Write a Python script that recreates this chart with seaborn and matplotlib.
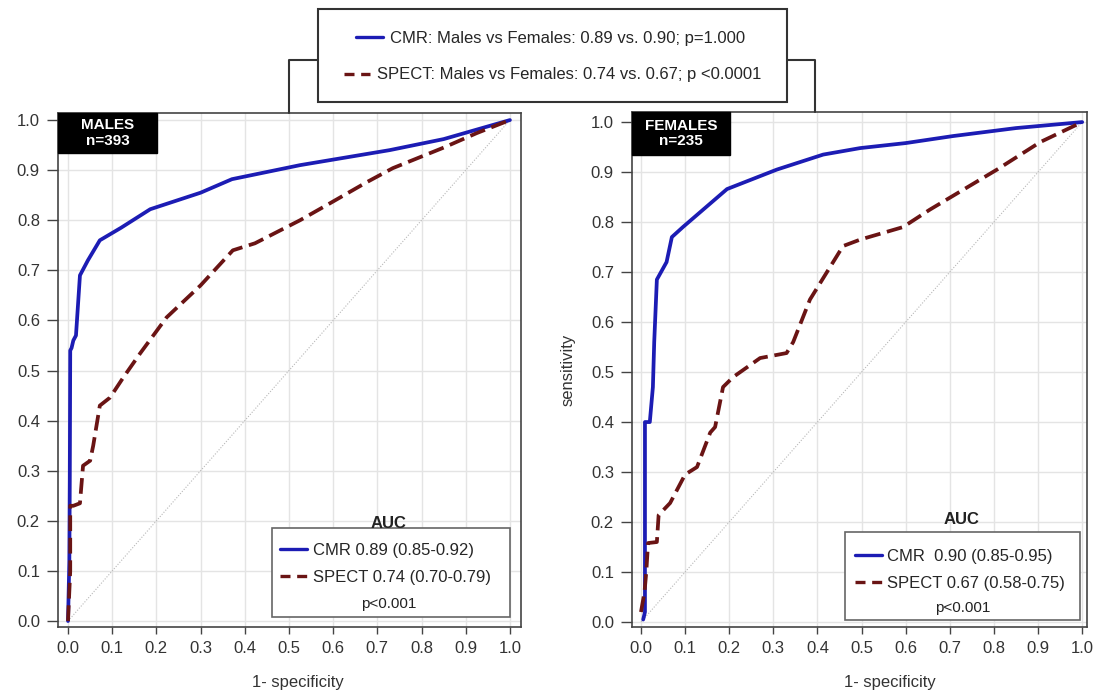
import numpy as np
import pandas as pd
import matplotlib
matplotlib.use("Agg")
import matplotlib.pyplot as plt
from matplotlib.patches import Rectangle
from matplotlib.lines import Line2D
import seaborn as sns

# ---------------- data ----------------
males_cmr_fpr = [0.0, 0.003, 0.004, 0.005, 0.008, 0.012, 0.018, 0.027, 0.045, 0.072, 0.12, 0.186, 0.30, 0.371, 0.525, 0.728, 0.85, 1.0]
males_cmr_tpr = [0.0, 0.12, 0.28, 0.54, 0.545, 0.56, 0.57, 0.69, 0.72, 0.76, 0.785, 0.822, 0.855, 0.882, 0.91, 0.94, 0.962, 1.0]

males_spect_fpr = [0.0, 0.005, 0.005, 0.012, 0.027, 0.034, 0.05, 0.057, 0.072, 0.095, 0.125, 0.163, 0.223, 0.30, 0.373, 0.423, 0.525, 0.593, 0.676, 0.735, 0.85, 0.925, 1.0]
males_spect_tpr = [0.0, 0.10, 0.23, 0.23, 0.235, 0.31, 0.32, 0.35, 0.43, 0.446, 0.486, 0.534, 0.606, 0.67, 0.74, 0.754, 0.80, 0.834, 0.876, 0.904, 0.945, 0.974, 1.0]

females_cmr_fpr = [0.005, 0.009, 0.009, 0.02, 0.027, 0.03, 0.036, 0.058, 0.07, 0.095, 0.195, 0.308, 0.413, 0.497, 0.60, 0.707, 0.85, 1.0]
females_cmr_tpr = [0.005, 0.02, 0.40, 0.40, 0.47, 0.56, 0.685, 0.72, 0.77, 0.79, 0.866, 0.905, 0.935, 0.948, 0.958, 0.972, 0.988, 1.0]

females_spect_fpr = [0.0, 0.008, 0.012, 0.016, 0.036, 0.04, 0.066, 0.10, 0.127, 0.157, 0.168, 0.186, 0.209, 0.27, 0.33, 0.345, 0.383, 0.458, 0.497, 0.594, 0.655, 0.807, 0.905, 1.0]
females_spect_tpr = [0.02, 0.06, 0.10, 0.158, 0.16, 0.214, 0.238, 0.295, 0.31, 0.379, 0.39, 0.47, 0.49, 0.528, 0.538, 0.56, 0.645, 0.752, 0.765, 0.79, 0.825, 0.905, 0.96, 1.0]

tick_values = [0.0, 0.1, 0.2, 0.3, 0.4, 0.5, 0.6, 0.7, 0.8, 0.9, 1.0]
tick_labels = ["0.0", "0.1", "0.2", "0.3", "0.4", "0.5", "0.6", "0.7", "0.8", "0.9", "1.0"]

males_auc_labels = ["CMR 0.89 (0.85-0.92)", "SPECT 0.74 (0.70-0.79)"]
females_auc_labels = ["CMR  0.90 (0.85-0.95)", "SPECT 0.67 (0.58-0.75)"]
top_labels = ["CMR: Males vs Females: 0.89 vs. 0.90; p=1.000",
              "SPECT: Males vs Females: 0.74 vs. 0.67; p <0.0001"]

# ---------------- style ----------------
sns.set_theme(style="whitegrid")
plt.rcParams["font.family"] = ["Liberation Sans", "DejaVu Sans"]

BLUE = "#1c1cb4"
RED = "#6a1414"
SPINE = "#444444"
palette = {"CMR": BLUE, "SPECT": RED}
dashes = {"CMR": "", "SPECT": (4.2, 1.8)}


def make_df(cf, ct, sf, st):
    return pd.concat([
        pd.DataFrame({"fpr": cf, "tpr": ct, "modality": "CMR"}),
        pd.DataFrame({"fpr": sf, "tpr": st, "modality": "SPECT"}),
    ], ignore_index=True)


df_m = make_df(males_cmr_fpr, males_cmr_tpr, males_spect_fpr, males_spect_tpr)
df_f = make_df(females_cmr_fpr, females_cmr_tpr, females_spect_fpr, females_spect_tpr)

fig = plt.figure(figsize=(10.97, 6.94), dpi=100)
ax1 = fig.add_axes([0.0529, 0.0965, 0.422, 0.7406])
ax2 = fig.add_axes([0.5761, 0.0965, 0.4148, 0.742])


def draw_panel(ax, df, xlim, ylim, panel_text, box_w, box_h,
               leg_labels, leg_anchor, rect, auc_xy, p_xy, xlabel_x):
    ax.plot([0, 1], [0, 1], ls=(0, (1, 1.5)), color="#b8b8b8", lw=0.8, zorder=2)
    sns.lineplot(data=df, x="fpr", y="tpr", hue="modality", style="modality",
                 palette=palette, dashes=dashes, sort=False, estimator=None,
                 legend=False, ax=ax, linewidth=2.7, zorder=3)
    ax.set_xlim(*xlim)
    ax.set_ylim(*ylim)
    ax.set_xticks(tick_values)
    ax.set_xticklabels(tick_labels)
    ax.set_yticks(tick_values)
    ax.set_yticklabels(tick_labels)
    ax.grid(True, color="#e4e4e4", lw=1.0)
    ax.set_facecolor("white")
    for s in ax.spines.values():
        s.set_color(SPINE)
        s.set_linewidth(1.2)
    ax.tick_params(axis="x", direction="out", length=5, width=1, color=SPINE,
                   labelsize=12, labelcolor="#333333", pad=5, bottom=True)
    ax.tick_params(axis="y", direction="out", length=8, width=1, color=SPINE,
                   labelsize=12, labelcolor="#333333", pad=5, left=True)
    ax.set_xlabel("1- specificity", fontsize=12, color="#333333")
    ax.xaxis.set_label_coords(xlabel_x, -0.093)
    ax.set_ylabel("")

    # panel tag
    ax.add_patch(Rectangle((0, 1 - box_h), box_w, box_h, transform=ax.transAxes,
                           facecolor="black", edgecolor="black", zorder=6, clip_on=False))
    ax.text(box_w / 2, 1 - box_h / 2, panel_text, transform=ax.transAxes,
            ha="center", va="center", color="white", fontsize=11,
            fontweight="bold", zorder=7, linespacing=1.15)

    # AUC legend box
    ax.add_patch(Rectangle(rect[:2], rect[2], rect[3], transform=ax.transAxes,
                           facecolor="white", edgecolor="#666666", lw=1.2, zorder=5))
    handles = [Line2D([], [], color=BLUE, lw=2.4),
               Line2D([], [], color=RED, lw=2.4, dashes=(3, 2))]
    leg = ax.legend(handles, leg_labels, loc="center left", bbox_to_anchor=leg_anchor,
                    frameon=False, fontsize=12, handlelength=1.6, handletextpad=0.35,
                    labelspacing=0.72, borderpad=0, borderaxespad=0)
    leg.set_zorder(6)
    ax.text(auc_xy[0], auc_xy[1], "AUC", transform=ax.transAxes, ha="center",
            va="center", fontsize=12, fontweight="bold", color="#222222", zorder=7)
    ax.text(p_xy[0], p_xy[1], "p<0.001", transform=ax.transAxes, ha="center",
            va="center", fontsize=11, color="#222222", zorder=7)


draw_panel(ax1, df_m, (-0.0226, 1.025), (-0.012, 1.014), "MALES\nn=393", 0.214, 0.078,
           males_auc_labels, (0.4795, 0.1226), (0.462, 0.0195, 0.514, 0.1735),
           (0.713, 0.202), (0.715, 0.0447), 0.518)
draw_panel(ax2, df_f, (-0.0204, 1.011), (-0.010, 1.020), "FEMALES\nn=235", 0.215, 0.0835,
           females_auc_labels, (0.490, 0.1107), (0.468, 0.0136, 0.517, 0.1705),
           (0.725, 0.208), (0.7275, 0.0369), 0.567)

ax2.set_ylabel("sensitivity", fontsize=12, color="#333333")
ax2.yaxis.set_label_coords(-0.125, 0.499)

# ---------------- top legend box with bracket ----------------
fig.patches.append(Rectangle((0.2899, 0.853), 0.4275, 0.134, transform=fig.transFigure,
                             facecolor="white", edgecolor="#333333", lw=1.5, zorder=3))
fig.lines.append(Line2D([0.2899, 0.2634, 0.2634], [0.9135, 0.9135, 0.837],
                        transform=fig.transFigure, color="#333333", lw=1.5))
fig.lines.append(Line2D([0.7174, 0.7429, 0.7429], [0.9135, 0.9135, 0.8386],
                        transform=fig.transFigure, color="#333333", lw=1.5))

l1 = fig.legend([Line2D([], [], color=BLUE, lw=2.4)], [top_labels[0]], loc="center",
                bbox_to_anchor=(0.502, 0.9447), frameon=False, fontsize=12,
                handlelength=1.6, handletextpad=0.4, borderpad=0, borderaxespad=0)
l2 = fig.legend([Line2D([], [], color=RED, lw=2.4, dashes=(3, 2))], [top_labels[1]],
                loc="center", bbox_to_anchor=(0.5036, 0.892), frameon=False, fontsize=12,
                handlelength=1.6, handletextpad=0.4, borderpad=0, borderaxespad=0)
l1.set_zorder(5)
l2.set_zorder(5)

fig.savefig("out.png", dpi=100, facecolor="white")
